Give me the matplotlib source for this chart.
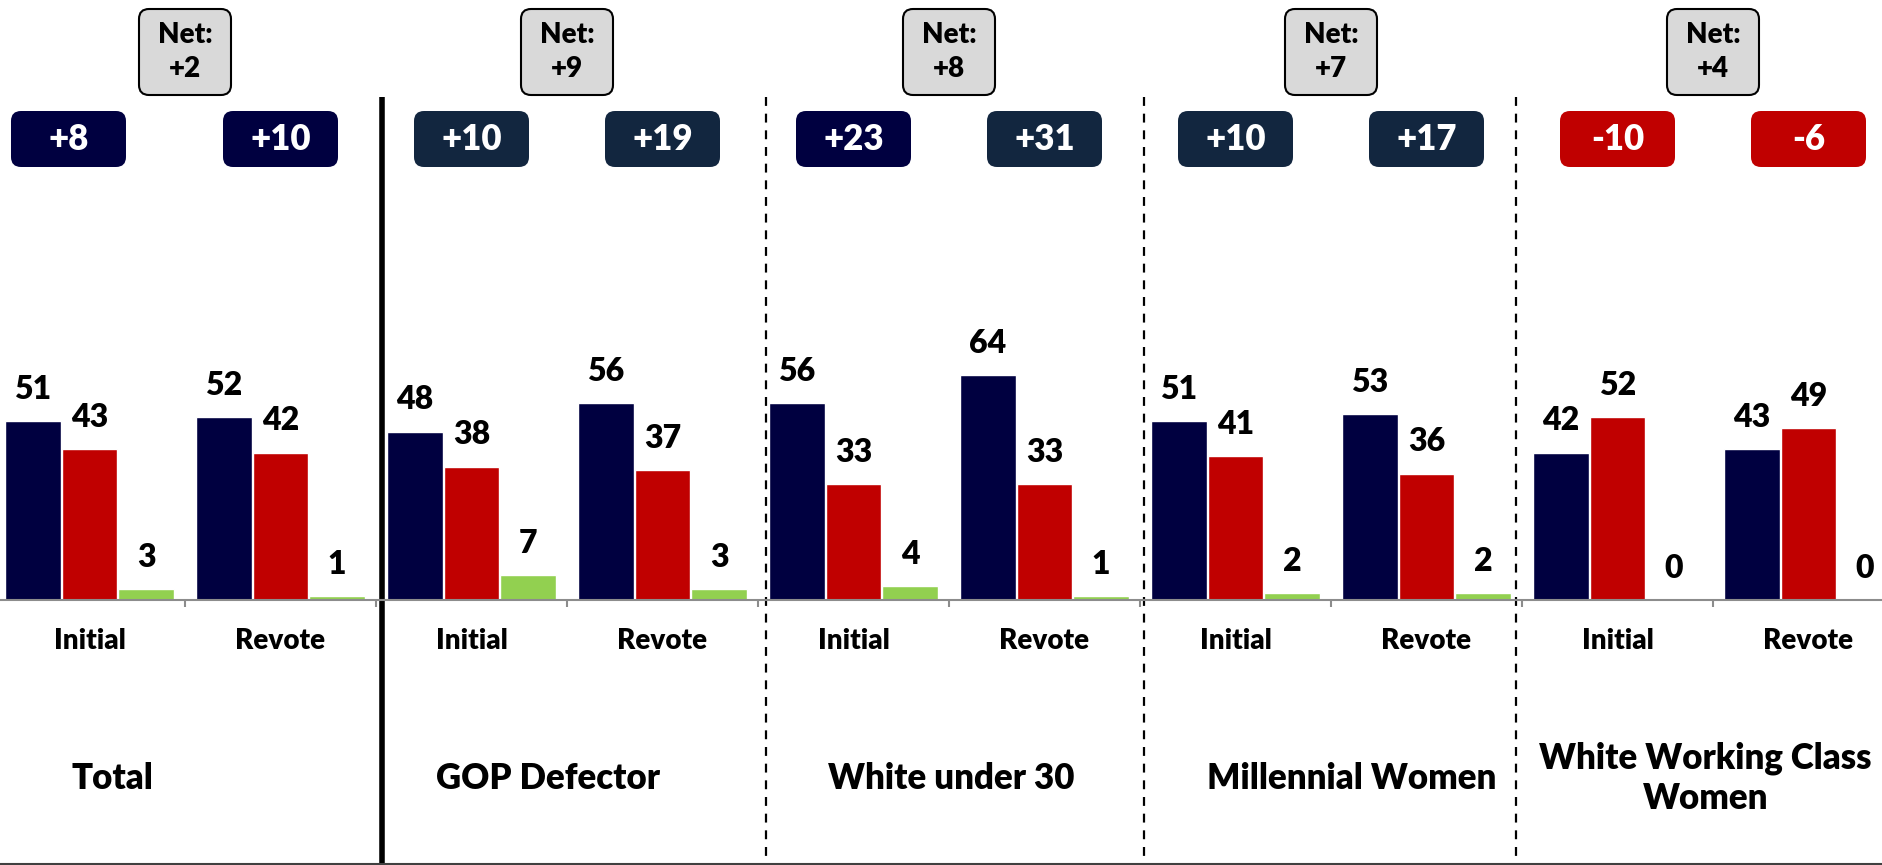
import numpy as np
import matplotlib
matplotlib.use('Agg')
import matplotlib.pyplot as plt
from matplotlib.patches import FancyBboxPatch
from matplotlib.lines import Line2D

plt.rcParams['font.family'] = ['Lato', 'DejaVu Sans']
WEIGHT = 'heavy'

# data
panels = ['Total', 'GOP Defector', 'White under 30', 'Millennial Women',
          'White Working Class\nWomen']
rounds = ['Initial', 'Revote']
dem = [51, 52, 48, 56, 56, 64, 51, 53, 42, 43]
rep = [43, 42, 38, 37, 33, 33, 41, 36, 52, 49]
other = [3, 1, 7, 3, 4, 1, 2, 2, 0, 0]

# colours
c_dem = '#000040'
c_rep = '#C00000'
c_oth = '#92D050'
box_colors = ['#000040', '#000040', '#12263F', '#12263F', '#000040',
              '#12263F', '#12263F', '#12263F', '#C00000', '#C00000']

W, H = 1883, 865
fig = plt.figure(figsize=(W / 100, H / 100), dpi=100)
ax = fig.add_axes([-6 / W, 265 / H, 1910 / W, 600 / H])

n = len(dem)
x = np.arange(n)
bw = 0.29
step = 0.296
for vals, col, off in [(dem, c_dem, -step), (rep, c_rep, 0), (other, c_oth, step)]:
    ax.bar(x + off, vals, bw, color=col, edgecolor='white', linewidth=1)
    for xi, v in zip(x + off, vals):
        ax.annotate(str(v), (xi, v), xytext=(0, 16), textcoords='offset points',
                    ha='center', va='baseline', fontsize=23, fontweight=WEIGHT)

ax.set_xlim(-0.5, n - 0.5)
ax.set_ylim(0, 600 / 3.51)
for s in ['top', 'left', 'right']:
    ax.spines[s].set_visible(False)
ax.spines['bottom'].set_color('#8c8c8c')
ax.spines['bottom'].set_linewidth(1.5)
ax.set_yticks([])
ax.set_xticks(x)
ax.set_xticklabels(rounds * len(panels), fontsize=20, fontweight=WEIGHT)
ax.tick_params(axis='x', which='major', length=0, pad=20)
ax.set_xticks(np.arange(-0.5, n, 1), minor=True)
ax.tick_params(axis='x', which='minor', length=5, width=1.5, color='#8c8c8c')

trans = ax.get_xaxis_transform()
bb = ax.get_window_extent()
px_x = bb.width / n        # pixels per data unit
px_y = bb.height           # pixels per axes fraction
aspect = px_x / px_y

# group titles
title_x = [0.118, 2.40, 4.51, 6.61, 8.46]
for tx, name in zip(title_x, panels):
    ax.text(tx, -0.297, name, transform=trans, ha='center', va='center',
            fontsize=25, fontweight=WEIGHT, linespacing=1.25)

# separators
for k, xb in enumerate([1.53, 3.54, 5.52, 7.47]):
    if k == 0:
        ax.plot([xb, xb], [1 - 97 / 600, -0.5], transform=trans, color='black',
                lw=4, clip_on=False, solid_capstyle='butt')
    else:
        ax.plot([xb, xb], [1 - 97 / 600, -0.5], transform=trans, color='black',
                lw=1.6, ls=(0, (4, 3.5)), clip_on=False)

fig.add_artist(Line2D([0, 1], [1.5 / H, 1.5 / H], color='#404040', lw=1.5))


def rbox(xc, yc, wpx, hpx, fc, ec='none', lw=0):
    w = wpx / px_x
    h = hpx / px_y
    r = 10 / px_x
    p = FancyBboxPatch((xc - w / 2, yc - h / 2), w, h,
                       boxstyle='round,pad=0,rounding_size=%f' % r,
                       mutation_aspect=aspect, transform=trans, clip_on=False,
                       facecolor=fc, edgecolor=ec, linewidth=lw)
    ax.add_patch(p)


# margin boxes per group (first one sits a little left in the original)
box_shift = [-0.11] + [0] * (n - 1)
for i in range(n):
    m = dem[i] - rep[i]
    xc = x[i] + box_shift[i]
    yc = 1 - 139 / 600
    rbox(xc, yc, 115, 56, box_colors[i])
    ax.text(xc, yc, '%+d' % m, transform=trans, ha='center', va='center',
            color='white', fontsize=25, fontweight=WEIGHT)

# net change boxes per panel
for k in range(len(panels)):
    i0, i1 = 2 * k, 2 * k + 1
    net = (dem[i1] - rep[i1]) - (dem[i0] - rep[i0])
    xc = (x[i0] + x[i1]) / 2
    yc = 1 - 52 / 600
    rbox(xc, yc, 92, 86, '#D9D9D9', ec='black', lw=1.5)
    ax.text(xc, yc, 'Net:\n%+d' % net, transform=trans, ha='center', va='center',
            fontsize=20, fontweight=WEIGHT, linespacing=1.4)

fig.savefig('out.png', dpi=100)
